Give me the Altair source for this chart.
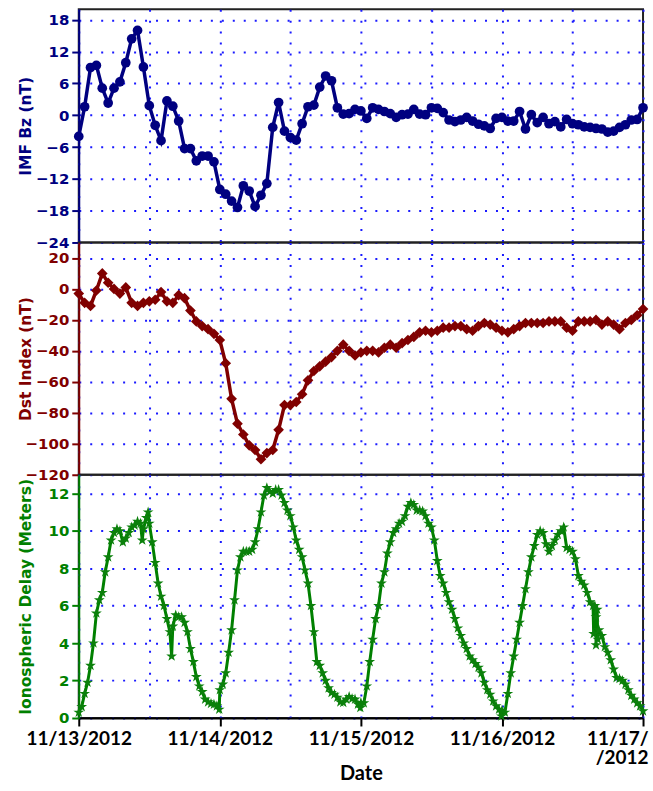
import altair as alt
import pandas as pd

# ---------------- data ----------------
hours = list(range(97))  # hourly samples from 11/13/2012 00:00 to 11/17/2012 00:00

imf_bz = [-4.0, 1.6, 9.0, 9.4, 5.1, 2.3, 5.1, 6.3, 9.9, 14.4,
          16.0, 9.1, 1.8, -1.9, -4.8, 2.7, 1.7, -1.1, -6.3, -6.3,
          -8.6, -7.7, -7.7, -8.8, -14.0, -14.9, -16.2, -17.4, -13.3, -14.3,
          -17.2, -15.1, -12.9, -2.3, 2.4, -3.0, -4.2, -4.7, -1.6, 1.6,
          1.9, 5.3, 7.4, 6.5, 1.4, 0.2, 0.3, 1.1, 0.8, -0.6,
          1.4, 1.1, 0.7, 0.3, -0.4, 0.1, 0.2, 1.1, 0.2, 0.1,
          1.4, 1.3, 0.5, -0.9, -1.2, -0.9, -0.4, -1.1, -1.7, -2.0,
          -2.5, -0.6, -0.4, -1.1, -1.1, 0.7, -2.6, 0.1, -1.4, -0.4,
          -1.6, -1.2, -2.2, -0.8, -1.6, -1.8, -2.2, -2.3, -2.5, -2.6,
          -3.2, -3.0, -2.3, -1.8, -0.9, -0.8, 1.4]

dst = [-3, -9, -11, -1, 10, 4, 0, -3, 1, -9,
       -11, -9, -8, -7, -2, -8, -9, -4, -6, -14,
       -21, -24, -26, -29, -33, -48, -71, -87, -94, -101,
       -104, -110, -106, -104, -91, -75, -75, -73, -68, -59,
       -53, -50, -47, -44, -40, -36, -40, -43, -41, -40,
       -40, -41, -38, -36, -38, -35, -33, -31, -28, -27,
       -28, -27, -25, -25, -24, -24, -26, -27, -24, -22,
       -23, -25, -27, -28, -26, -24, -22, -22, -22, -22,
       -21, -21, -21, -25, -27, -21, -21, -21, -20, -23,
       -21, -23, -26, -22, -20, -17, -13]

# ionospheric delay, half-hourly readings per day
iono_day1 = [0.3, 0.6, 1.3, 1.9, 2.8, 4.0, 5.6, 6.3, 6.7, 7.8, 8.6, 9.5,
             9.9, 10.1, 10.0, 9.4, 9.6, 9.9, 10.2, 10.3, 10.5, 10.4, 10.1, 10.7,
             10.4, 9.4, 8.3, 7.2, 6.5, 6.0, 5.3, 4.6, 4.9, 5.5, 5.4, 5.4,
             5.1, 4.6, 3.7, 3.0, 2.2, 1.7, 1.4, 1.0, 0.85, 0.77, 0.73, 0.64]
iono_day2 = [1.5, 1.8, 2.4, 3.5, 4.7, 6.3, 7.9, 8.6, 8.9, 8.9, 8.9, 9.0,
             9.4, 10.1, 11.0, 11.9, 12.3, 12.1, 12.0, 12.2, 12.2, 11.9, 11.5, 11.1,
             10.8, 10.2, 9.5, 9.0, 8.6, 7.9, 7.2, 6.0, 4.6, 3.0, 2.8, 2.4,
             2.0, 1.6, 1.35, 1.26, 1.1, 0.85, 0.82, 1.0, 1.14, 1.03, 1.0, 0.73]
iono_day3 = [0.82, 0.8, 1.7, 3.0, 4.2, 5.3, 6.0, 7.2, 7.8, 8.8, 9.4, 9.9,
             10.1, 10.4, 10.5, 10.8, 11.3, 11.5, 11.4, 11.1, 11.1, 11.05, 10.8, 10.4,
             10.2, 9.5, 8.4, 7.6, 7.2, 6.7, 6.2, 5.8, 5.3, 4.8, 4.4, 4.0,
             3.7, 3.3, 3.1, 2.9, 2.7, 2.4, 1.9, 1.5, 1.26, 0.9, 0.64, 0.46]
iono_day4 = [0.4, 0.3, 1.3, 2.4, 3.3, 4.2, 5.1, 6.0, 6.9, 7.8, 8.6, 9.2,
             9.8, 10.0, 9.9, 9.3, 8.9, 9.2, 9.5, 9.8, 10.0, 10.2, 9.1, 9.0,
             8.9, 8.5, 7.6, 7.3, 7.1, 6.7, 6.2, 6.0, 5.4, 4.7, 4.4, 3.8,
             3.5, 3.1, 2.6, 2.15, 2.1, 2.0, 1.8, 1.5, 1.2, 1.0, 0.8, 0.64]
iono_end = 0.37
# extra readings at spikes / jumps
iono_extra_hours = [10.8, 11.8, 15.8, 23.9, 47.9, 71.9, 87.6, 87.8, 88.0, 88.2, 88.3]
iono_extra_vals = [9.5, 11.0, 3.3, 0.46, 0.55, 0.1, 4.5, 6.0, 3.9, 5.8, 4.2]

day_labels = ["11/13/2012", "11/14/2012", "11/15/2012", "11/16/2012", ["11/17/", "/2012"]]
day_hours = [0, 24, 48, 72, 96]

# ---------------- frames ----------------
df_bz = pd.DataFrame({"hour": hours, "bz": imf_bz})
df_dst = pd.DataFrame({"hour": hours, "dst": dst})
iono_vals = iono_day1 + iono_day2 + iono_day3 + iono_day4 + [iono_end]
iono_hours = [i * 0.5 for i in range(192)] + [96]
df_iono = pd.DataFrame({"hour": iono_hours + iono_extra_hours,
                        "delay": iono_vals + iono_extra_vals}).sort_values("hour")

# ---------------- style ----------------
NAVY = "#000080"
DRED = "#800000"
GREEN = "#008000"
GRID = "#1a1aff"
W = 566
H1, H2, H3 = 234, 233, 244
STAR = ("M0,-1L0.225,-0.309L0.951,-0.309L0.363,0.118L0.588,0.809L0,0.382"
        "L-0.588,0.809L-0.363,0.118L-0.951,-0.309L-0.225,-0.309Z")

xscale = alt.Scale(domain=[0, 96], nice=False, zero=False)
grid_vals = list(range(0, 97, 12))


def grid_x_axis():
    return alt.Axis(values=grid_vals, labels=False, ticks=False, domain=False,
                    grid=True, gridColor=GRID, gridDash=[2, 9], gridWidth=2, title=None)


def y_axis(title, color, values, h):
    return alt.Axis(title=title, values=values, titleColor=color, labelColor=color,
                    domainColor=color, tickColor=color, domainWidth=2, tickWidth=2,
                    tickSize=7, labelPadding=3, labelFont="DejaVu Sans",
                    labelFontWeight="bold", labelFontSize=15, titleFont="DejaVu Sans",
                    titleFontWeight="bold", titleFontSize=15.5, titleX=-53, titleY=h / 2,
                    titleBaseline="middle", grid=True, gridColor=GRID, gridDash=[2, 9],
                    gridWidth=2, labelOverlap=False)


expr = "''"
for hv, lab in reversed(list(zip(day_hours, day_labels))):
    if isinstance(lab, list):
        lab_s = "[" + ", ".join("'" + s + "'" for s in lab) + "]"
    else:
        lab_s = "'" + lab + "'"
    expr = f"datum.value == {hv} ? {lab_s} : ({expr})"

bottom_x_axis = alt.Axis(
    values=grid_vals, labelExpr=expr, labelFlush=False, labelOverlap=False, labelBound=False,
    labelFont="Lato", labelFontWeight="bold", labelFontSize=19, labelColor="black",
    labelPadding=4, labelLineHeight=19,
    labelAlign={"condition": {"test": "datum.value == 96", "value": "right"}, "value": "center"},
    labelOffset={"condition": {"test": "datum.value == 96", "value": 5}, "value": 0},
    tickColor="black", tickWidth=2, tickSize=8,
    tickOpacity={"condition": {"test": "datum.value % 24 == 0", "value": 1}, "value": 0},
    domainColor="black", domainWidth=2,
    grid=True, gridColor=GRID, gridDash=[2, 9], gridWidth=2,
    title="Date", titleFont="Lato", titleFontWeight="bold", titleFontSize=20,
    titleColor="black", titleY=62, titleBaseline="alphabetic")

# ---------------- panels ----------------
base1 = alt.Chart(df_bz).encode(
    x=alt.X("hour:Q", scale=xscale, axis=grid_x_axis()),
    y=alt.Y("bz:Q", scale=alt.Scale(domain=[-24, 20], nice=False, zero=False),
            axis=y_axis("IMF Bz (nT)", NAVY, list(range(-24, 19, 6)), H1)))
top = alt.layer(
    base1.mark_line(color=NAVY, strokeWidth=3.5),
    base1.mark_point(shape="circle", filled=True, size=95, color=NAVY, opacity=1),
).properties(width=W, height=H1)

base2 = alt.Chart(df_dst).encode(
    x=alt.X("hour:Q", scale=xscale, axis=grid_x_axis()),
    y=alt.Y("dst:Q", scale=alt.Scale(domain=[-120, 30], nice=False, zero=False),
            axis=y_axis("Dst Index (nT)", DRED, list(range(-120, 21, 20)), H2)))
mid = alt.layer(
    base2.mark_line(color=DRED, strokeWidth=3.5),
    base2.mark_point(shape="diamond", filled=True, size=115, color=DRED, opacity=1),
).properties(width=W, height=H2)

base3 = alt.Chart(df_iono).encode(
    x=alt.X("hour:Q", scale=xscale, axis=bottom_x_axis),
    y=alt.Y("delay:Q", scale=alt.Scale(domain=[0, 13], nice=False, zero=False),
            axis=y_axis("Ionospheric Delay (Meters)", GREEN, list(range(0, 13, 2)), H3)))
bot = alt.layer(
    base3.mark_line(color=GREEN, strokeWidth=3),
    base3.mark_point(shape=STAR, filled=True, size=130, color="#0b800b", opacity=1),
).properties(width=W, height=H3)

chart = alt.vconcat(top, mid, bot, spacing=0, bounds="flush").properties(
    padding={"left": 17, "top": 7, "right": 2, "bottom": 4},
    background="white",
).configure_view(stroke="#222222", strokeWidth=2)

chart.save("out.html", embed_options={"renderer": "svg", "actions": False})
